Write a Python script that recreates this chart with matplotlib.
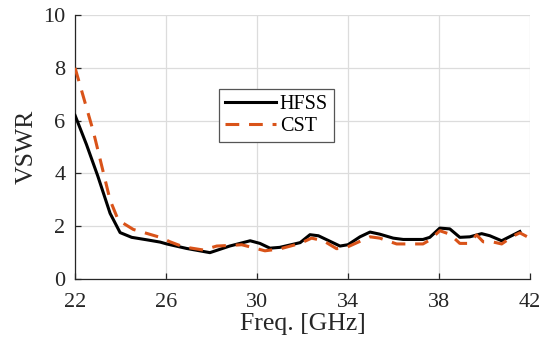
import matplotlib
matplotlib.use("Agg")
import matplotlib.pyplot as plt

plt.rcParams['font.family'] = ['Liberation Serif', 'DejaVu Serif']

hfss_f = [22.0, 22.5, 23.0, 23.54, 23.98, 24.49, 25.2, 25.74, 26.03, 26.9, 27.93,
          28.8, 29.7, 30.13, 30.57, 31.0, 31.9, 32.33, 32.7, 33.65, 34.0, 34.53,
          34.97, 35.4, 35.99, 36.43, 37.3, 37.6, 38.04, 38.48, 38.92, 39.36,
          39.88, 40.24, 40.76, 41.56]
hfss_v = [6.2, 5.1, 3.9, 2.49, 1.76, 1.58, 1.48, 1.4, 1.33, 1.16, 1.0,
          1.25, 1.45, 1.35, 1.17, 1.2, 1.38, 1.68, 1.64, 1.25, 1.3, 1.6,
          1.78, 1.7, 1.55, 1.5, 1.5, 1.58, 1.93, 1.9, 1.58, 1.6,
          1.72, 1.64, 1.45, 1.8]

cst_f = [22.0, 22.8, 23.54, 23.9, 24.56, 25.74, 26.18, 26.76, 27.64, 28.23, 28.96,
         29.33, 30.35, 31.0, 31.9, 32.4, 32.92, 33.5, 33.94, 34.97, 35.4, 36.14,
         37.3, 37.6, 38.04, 38.48, 38.92, 39.3, 39.66, 39.95, 40.4, 40.76, 41.27,
         41.56, 42.0]
cst_v = [8.0, 5.6, 2.99, 2.23, 1.88, 1.58, 1.41, 1.22, 1.1, 1.25, 1.28,
         1.3, 1.07, 1.14, 1.35, 1.55, 1.45, 1.15, 1.2, 1.6, 1.55, 1.33,
         1.33, 1.48, 1.83, 1.7, 1.35, 1.35, 1.67, 1.41, 1.4, 1.33, 1.63,
         1.75, 1.55]

xticks = [22, 26, 30, 34, 38, 42]
yticks = [0, 2, 4, 6, 8, 10]

fig = plt.figure(figsize=(5.44, 3.51), dpi=100)
ax = fig.add_axes([0.138, 0.205, 0.836, 0.752])

ax.plot(hfss_f, hfss_v, color='black', lw=2.2, label='HFSS', zorder=3)
ax.plot(cst_f, cst_v, color='#D95319', lw=2.2, ls=(0, (4.5, 3.2)), label='CST', zorder=3)

ax.set_xlim(22, 42)
ax.set_ylim(0, 10)
ax.set_xticks(xticks)
ax.set_yticks(yticks)
ax.grid(True, color='#dcdcdc', lw=0.9)
ax.set_axisbelow(True)
for s in ['top', 'right']:
    ax.spines[s].set_visible(False)
for s in ['left', 'bottom']:
    ax.spines[s].set_linewidth(0.9)
    ax.spines[s].set_color('#262626')
ax.tick_params(direction='in', length=4, width=0.9, labelsize=16, colors='#262626')
ax.tick_params(axis='x', pad=10)
ax.tick_params(axis='y', pad=7)
ax.set_xlabel('Freq. [GHz]', fontsize=18.5, color='#262626', labelpad=1)
ax.set_ylabel('VSWR', fontsize=18.5, color='#262626', labelpad=4)

leg = ax.legend(loc='upper left', bbox_to_anchor=(0.317, 0.72), fontsize=14.5,
                frameon=True, fancybox=False, framealpha=1, edgecolor='#555555',
                handlelength=2.5, borderaxespad=0, borderpad=0.3, labelspacing=0.15,
                handletextpad=0.2)
leg.get_frame().set_linewidth(0.9)

fig.savefig('out.png', dpi=100)
